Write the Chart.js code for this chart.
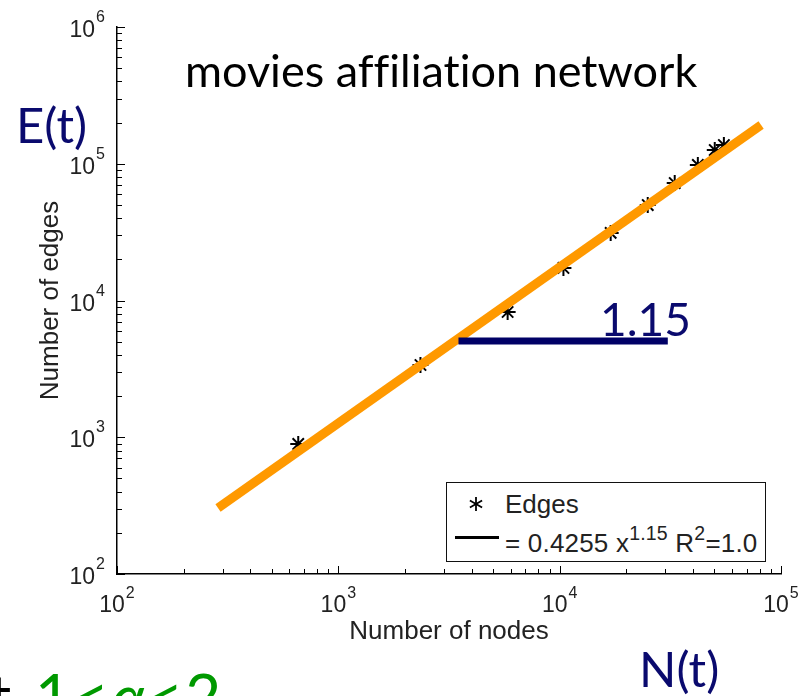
<!DOCTYPE html>
<html><head><meta charset="utf-8">
<script src="https://cdn.jsdelivr.net/npm/chart.js@4"></script>
<style>
html,body{margin:0;padding:0;background:#fff;overflow:hidden}
#wrap{position:relative;width:810px;height:696px;overflow:hidden}
canvas{position:absolute;left:0;top:0}
.t{position:absolute;white-space:nowrap;line-height:1;font-family:Lato,"Open Sans",sans-serif;font-variant-ligatures:none;font-feature-settings:"liga" 0,"dlig" 0}
#legend{position:absolute;left:446px;top:482px;width:320px;height:80px;box-sizing:border-box;border:1.3px solid #111;background:#fff;font-family:"Liberation Sans",Arial,sans-serif;font-size:26px;color:#222}
#legend .row{position:absolute;white-space:nowrap;line-height:1}
#legend sup{font-size:19.5px;vertical-align:0;position:relative;top:-12px;line-height:1}
</style></head><body>
<div id="wrap">
<canvas id="c" width="810" height="696"></canvas>
<div class="t" style="left:185px;top:48px;font-size:45px;color:#000">movies affiliation network</div>
<div class="t" style="left:16px;top:100px;font-size:49px;color:#0a0a6e">E(t)</div>
<div class="t" style="left:639px;top:644px;font-size:49px;color:#0a0a6e">N(t)</div>
<div class="t" style="left:600px;top:296px;font-size:46px;color:#0a0a6e">1.15</div>
<div class="t" style="left:-11px;top:664px;font-size:62px;color:#000">t</div>
<div class="t" style="left:35px;top:664px;font-size:62px;color:#009900;letter-spacing:2px">1&lt;<i>α</i>&lt;2</div>
<div id="legend">
  <svg style="position:absolute;left:19px;top:11px" width="20" height="20" viewBox="-10 -10 20 20"><g stroke="#000" stroke-width="1.8"><line x1="0" y1="-7" x2="0" y2="7"/><line x1="-6.1" y1="-3.5" x2="6.1" y2="3.5"/><line x1="-6.1" y1="3.5" x2="6.1" y2="-3.5"/></g></svg>
  <div class="row" style="left:58px;top:8px">Edges</div>
  <div style="position:absolute;left:8px;top:53px;width:44px;height:3px;background:#000"></div>
  <div class="row" style="left:58px;top:47px;letter-spacing:0.2px">= 0.4255 x<sup>1.15</sup> R<sup>2</sup>=1.0</div>
</div>
</div>
<script>
const nodes = [659, 2350, 5820, 10400, 17000, 25000, 33100, 42100, 50200, 55200];
const edges = [893, 3375, 8240, 17300, 31200, 49900, 72300, 98000, 126000, 137000];
const fitNodes = [286, 81300];
const fitEdges = [304, 192000];
const slopeNodes = [3490, 30800];
const slopeEdges = [5060, 5060];
const xDecades = [100, 1000, 10000, 100000];
const yDecades = [100, 1000, 10000, 100000, 1000000];
const minorSteps = [2, 3, 4, 5, 6, 7, 8, 9];

const pts = (xs, ys) => xs.map((x, i) => ({x, y: ys[i]}));
const expOf = v => String(Math.round(Math.log10(v)));
const baseFont = '23px "Liberation Sans", Arial, sans-serif';
const expFont = '16px "Liberation Sans", Arial, sans-serif';

const logAxisDecor = {
  id: 'logAxisDecor',
  afterDraw(chart){
    const {ctx, chartArea: a, scales: {x, y}} = chart;
    ctx.save();
    ctx.strokeStyle = '#000';
    ctx.lineWidth = 1;
    ctx.beginPath();
    const xTick = (v, len) => { const p = Math.round(x.getPixelForValue(v)) + 0.5; ctx.moveTo(p, a.bottom); ctx.lineTo(p, a.bottom - len); };
    const yTick = (v, len) => { const p = Math.round(y.getPixelForValue(v)) + 0.5; ctx.moveTo(a.left, p); ctx.lineTo(a.left + len, p); };
    xDecades.forEach((d, i) => { xTick(d, 8); if (i < xDecades.length - 1) minorSteps.forEach(k => xTick(d * k, 5)); });
    yDecades.forEach((d, i) => { yTick(d, 8); if (i < yDecades.length - 1) minorSteps.forEach(k => yTick(d * k, 5)); });
    ctx.stroke();
    ctx.fillStyle = '#222';
    ctx.textBaseline = 'alphabetic';
    ctx.textAlign = 'left';
    xDecades.forEach(d => {
      const p = x.getPixelForValue(d);
      ctx.font = baseFont; const wb = ctx.measureText('10').width;
      ctx.font = expFont; const we = ctx.measureText(expOf(d)).width;
      const start = p - (wb + 1 + we) / 2;
      ctx.font = baseFont; ctx.fillText('10', start, a.bottom + 38);
      ctx.font = expFont; ctx.fillText(expOf(d), start + wb + 1, a.bottom + 24);
    });
    yDecades.forEach(d => {
      const p = y.getPixelForValue(d);
      ctx.font = expFont; const we = ctx.measureText(expOf(d)).width;
      ctx.font = baseFont; const wb = ctx.measureText('10').width;
      const right = a.left - 12;
      ctx.font = expFont; ctx.fillText(expOf(d), right - we, p - 5);
      ctx.font = baseFont; ctx.fillText('10', right - we - 1 - wb, p + 10);
    });
    ctx.restore();
  }
};

const titleFont = {family: '"Liberation Sans", Arial, sans-serif', size: 26};

new Chart(document.getElementById('c'), {
  type: 'scatter',
  data: {
    datasets: [
      {label: 'Edges', data: pts(nodes, edges), pointStyle: 'star', pointRadius: 8,
       borderColor: '#000', backgroundColor: '#000', borderWidth: 2, order: 2},
      {label: 'fit', type: 'line', data: pts(fitNodes, fitEdges), borderColor: '#FF9900',
       borderWidth: 9, pointRadius: 0, borderCapStyle: 'butt', order: 1},
      {label: 'slope', type: 'line', data: pts(slopeNodes, slopeEdges), borderColor: '#000066',
       borderWidth: 7, pointRadius: 0, borderCapStyle: 'butt', order: 0}
    ]
  },
  options: {
    responsive: false,
    animation: false,
    events: [],
    layout: {padding: {top: 27, right: 29, left: 0, bottom: 0}},
    plugins: {legend: {display: false}, tooltip: {enabled: false}},
    scales: {
      x: {
        type: 'logarithmic', min: 100, max: 100000, position: 'bottom',
        grid: {display: false},
        border: {display: true, color: '#000', width: 1.5},
        ticks: {display: false},
        title: {display: true, text: 'Number of nodes', color: '#222', font: titleFont,
                padding: {top: 0, bottom: 49}},
        afterFit(s){ s.height = 122; }
      },
      y: {
        type: 'logarithmic', min: 100, max: 1000000, position: 'left',
        grid: {display: false},
        border: {display: true, color: '#000', width: 1.5},
        ticks: {display: false},
        title: {display: true, text: 'Number of edges', color: '#222', font: titleFont,
                padding: {top: 35, bottom: 0}},
        afterFit(s){ s.width = 117; }
      }
    }
  },
  plugins: [logAxisDecor]
});
</script>
</body></html>
